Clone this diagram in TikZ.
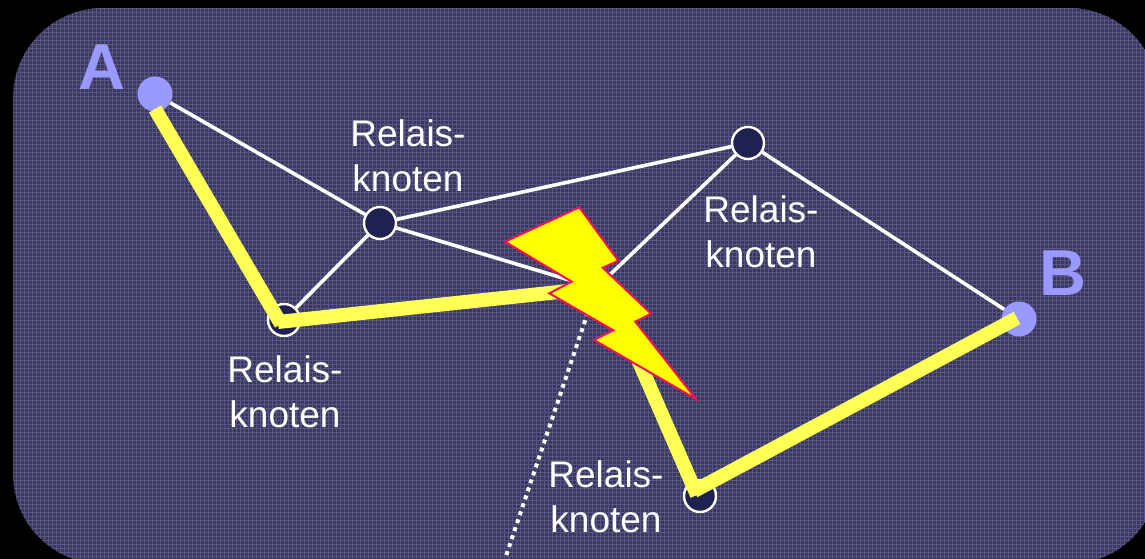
\documentclass[tikz,border=0pt]{standalone}
\usepackage{fontspec}
\setmainfont{Liberation Sans}
\definecolor{panelbase}{HTML}{3A3A58}
\definecolor{panelgrid}{HTML}{565488}
\definecolor{relayblue}{HTML}{1F2250}
\definecolor{endblue}{HTML}{9999FF}
\definecolor{routeyellow}{HTML}{FFFF55}
\definecolor{boltyellow}{HTML}{FFFF00}
\definecolor{boltred}{HTML}{F0105A}
\newcommand\relaislabel{Relais-\\knoten}
\tikzset{
  relay/.style={circle,fill=relayblue,draw=white,line width=2.4pt,inner sep=0pt,minimum size=32pt},
  endpoint/.style={circle,fill=endblue,inner sep=0pt,minimum size=35pt},
  endlabel/.style={text=endblue,font=\fontsize{65}{65}\selectfont\bfseries,inner sep=0pt},
  relaylabel/.style={text=white,align=center,font=\fontsize{37}{44.5}\selectfont,inner sep=0pt},
  link/.style={white,line width=3.6pt},
  route/.style={routeyellow,line width=14pt},
}

\begin{document}
\begin{tikzpicture}[x=1pt,y=1pt]
  \useasboundingbox (0,0) rectangle (1145,-559);
  \fill [black] (0,0) rectangle (1145,-559);

  % panel with its fine grid
  \begin{scope}
    \clip [rounded corners=90pt] (13,-8) rectangle (1159,-564);
    \fill [panelbase] (13,-8) rectangle (1159,-564);
    \draw [panelgrid,line width=0.8pt,step=4pt] (12,-8) grid (1160,-564);
  \end{scope}

  \node [endpoint] (a) at (155,-94) {};
  \node [endpoint] (b) at (1019,-319) {};
  \node [relay] (top) at (380,-223) {};
  \node [relay] (right) at (748,-143) {};
  \node [relay] (left) at (284,-320) {};
  \node [relay] (low) at (700,-496) {};
  \node [relay] (hit) at (596,-288) {};
  \coordinate (down) at (505,-559);

  \draw [link] (a) -- (top);
  \draw [link] (top) -- (right);
  \draw [link] (right) -- (b);
  \draw [link] (top) -- (left);
  \draw [link] (top) -- (hit);
  \draw [link] (right) -- (hit);
  \draw [white,line width=4pt,dash pattern=on 4pt off 4.4pt] (hit) -- (down);

  % route, butt ends on the nodes
  \coordinate (aout) at (155,-109);
  \coordinate (leftin) at (281,-324);
  \coordinate (leftout) at (278,-322);
  \coordinate (hitout) at (612,-300);
  \coordinate (lowin) at (697,-495);
  \coordinate (lowout) at (694,-491);
  \coordinate (bin) at (1017,-318);
  \draw [route] (aout) -- (leftin);
  \draw [route] (leftout) -- (hit.center);
  \draw [route] (hitout) -- (lowin);
  \draw [route] (lowout) -- (bin);

  % bolt
  \fill [boltyellow,draw=boltred,line width=2pt,line join=miter]
    (579.3,-207.3) -- (618.3,-260.7) -- (602.7,-267.7) -- (651,-313.7)
    -- (635.3,-321.7) -- (696,-399) -- (594,-340) -- (613.3,-330.3)
    -- (549.3,-293.3) -- (571.7,-281.7) -- (505,-241.7) -- cycle;

  \node [endlabel] (alab) at (102,-67) {A};
  \node [endlabel] (blab) at (1063,-273) {B};
  \node [relaylabel] (toplab) at (408,-156) {\relaislabel};
  \node [relaylabel] (rightlab) at (761,-232) {\relaislabel};
  \node [relaylabel] (leftlab) at (285,-392) {\relaislabel};
  \node [relaylabel] (lowlab) at (606,-497) {\relaislabel};
\end{tikzpicture}
\end{document}
